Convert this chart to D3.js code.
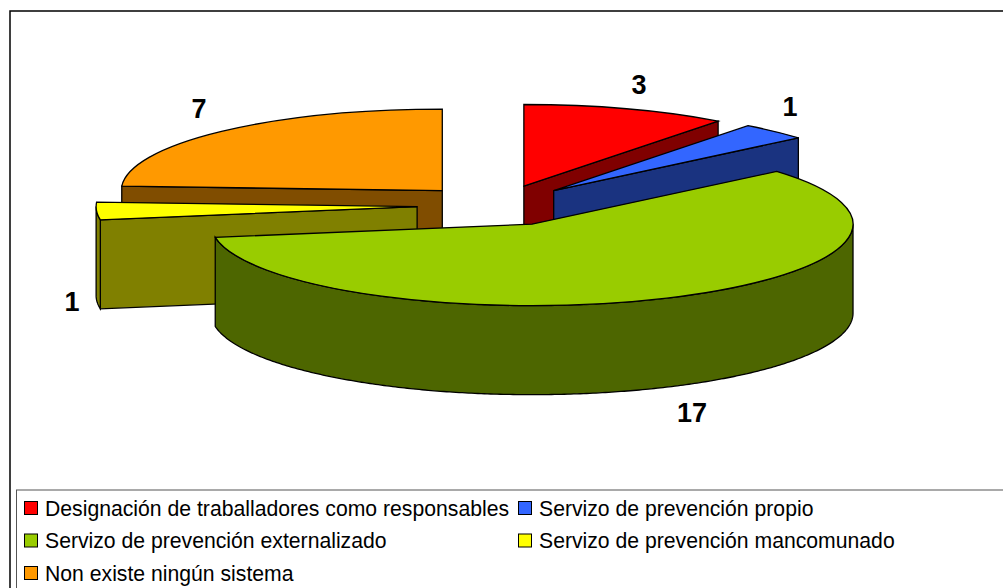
<!DOCTYPE html>
<html>
<head>
<meta charset="utf-8">
<script src="https://cdn.jsdelivr.net/npm/d3@7"></script>
<style>
    html, body { margin: 0; padding: 0; background: #fff; overflow: hidden; }
    text { font-family: "Liberation Sans", Arial, sans-serif; fill: #000; }
</style>
</head>
<body>
<div id="chart-pie"></div>
<script>
const categories = [
    "Designación de traballadores como responsables",
    "Servizo de prevención propio",
    "Servizo de prevención externalizado",
    "Servizo de prevención mancomunado",
    "Non existe ningún sistema"
];
const values = [3, 1, 17, 1, 7];
const topColors = ["#FF0000", "#3366FF", "#99CC00", "#FFFF00", "#FF9900"];
const sideColors = ["#800000", "#1A3380", "#4D6600", "#808000", "#804D00"];
// back slices first, the big green one has to cover the others
const drawOrder = [4, 0, 1, 3, 2];

const width = 1003, height = 588;
const centerX = 498, centerY = 205.5;
const rx = 321, ry = 81.5, depth = 89, explode = 81;

let svg = d3.select("#chart-pie")
    .append("svg")
    .attr("width", width)
    .attr("height", height);

// outer frame, runs off the right and bottom of the page
svg.append("rect")
    .attr("x", 10).attr("y", 11)
    .attr("width", width).attr("height", height)
    .attr("fill", "#fff").attr("stroke", "#000").attr("stroke-width", 1.5);

let slices = d3.pie().sort(null)(values);
let arc = d3.arc().innerRadius(0).outerRadius(rx);
let line = d3.line();

// apex of a slice after it is pulled out along its middle angle
function apex(d) {
    let mid = (d.startAngle + d.endAngle) / 2;
    return [centerX + explode * Math.sin(mid), centerY - explode * Math.cos(mid) * ry / rx];
}

function rim(a, angle) {
    return [a[0] + rx * Math.sin(angle), a[1] - ry * Math.cos(angle)];
}

function drop(p) {
    return [p[0], p[1] + depth];
}

function wall(points) {
    return line(points.concat(points.slice().reverse().map(drop))) + "Z";
}

let node = svg.selectAll(".slice")
    .data(drawOrder.map(function(i) { return slices[i]; }))
    .enter()
    .append("g")
    .attr("class", "slice");

node.each(function(d) {
    let g = d3.select(this);
    let a = apex(d);
    let side = sideColors[d.index];

    // cut faces that look towards the viewer
    if (d.endAngle < Math.PI) {
        g.append("path").attr("d", wall([a, rim(a, d.endAngle)])).attr("fill", side);
    }
    if (d.startAngle > Math.PI) {
        g.append("path").attr("d", wall([a, rim(a, d.startAngle)])).attr("fill", side);
    }

    // outer wall, only the front half of the ellipse shows
    let from = Math.max(d.startAngle, Math.PI / 2);
    let to = Math.min(d.endAngle, Math.PI * 1.5);
    if (to > from) {
        let angles = d3.range(from, to, 0.01).concat([to]);
        g.append("path")
            .attr("d", wall(angles.map(function(t) { return rim(a, t); })))
            .attr("fill", side);
    }

    g.append("path")
        .attr("d", arc(d))
        .attr("transform", "translate(" + a[0] + "," + a[1] + ") scale(1," + (ry / rx) + ")")
        .attr("fill", topColors[d.index]);
});

node.selectAll("path")
    .attr("stroke", "#000")
    .attr("stroke-width", 1.3)
    .attr("stroke-linejoin", "miter")
    .attr("vector-effect", "non-scaling-stroke");

// value labels
const labelX = [639, 790, 692, 72, 199];
const labelY = [94, 116, 422, 311, 118];

svg.selectAll(".value")
    .data(values)
    .enter()
    .append("text")
    .attr("class", "value")
    .attr("x", function(d, i) { return labelX[i]; })
    .attr("y", function(d, i) { return labelY[i]; })
    .attr("text-anchor", "middle")
    .attr("font-size", 27)
    .attr("font-weight", "bold")
    .text(function(d) { return d; });

// legend
svg.append("rect")
    .attr("x", 16.5).attr("y", 490)
    .attr("width", width).attr("height", height)
    .attr("fill", "#fff").attr("stroke", "#555").attr("stroke-width", 1);

let legend = svg.selectAll(".legend")
    .data(categories)
    .enter()
    .append("g")
    .attr("class", "legend")
    .attr("transform", function(d, i) {
        return "translate(" + (i % 2 ? 518 : 24) + "," + (508 + 32.5 * Math.floor(i / 2)) + ")";
    });

legend.append("rect")
    .attr("x", 0.5).attr("y", -6.5)
    .attr("width", 13).attr("height", 13)
    .attr("fill", function(d, i) { return topColors[i]; })
    .attr("stroke", "#000");

legend.append("text")
    .attr("x", 21)
    .attr("y", 7.5)
    .attr("font-size", 21.2)
    .text(function(d) { return d; });
</script>
</body>
</html>
